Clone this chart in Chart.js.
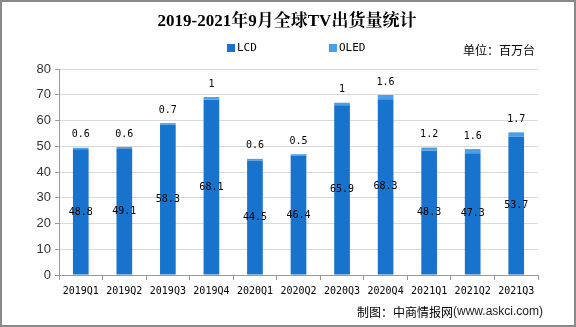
<!DOCTYPE html>
<html><head><meta charset="utf-8">
<script src="https://cdn.jsdelivr.net/npm/chart.js@4/dist/chart.umd.min.js"></script>
<style>html,body{margin:0;padding:0;background:#fff;}#wrap{width:576px;height:327px;position:relative;}</style>
</head><body><div id="wrap"><canvas id="c" width="576" height="327"></canvas></div>
<script>
const categories = ['2019Q1','2019Q2','2019Q3','2019Q4','2020Q1','2020Q2','2020Q3','2020Q4','2021Q1','2021Q2','2021Q3'];
const lcdValues = [48.8,49.1,58.3,68.1,44.5,46.4,65.9,68.3,48.3,47.3,53.7];
const oledValues = [0.6,0.6,0.7,1,0.6,0.5,1,1.6,1.2,1.6,1.7];
const yTicks = [0,10,20,30,40,50,60,70,80];
const titleText = '2019-2021年9月全球TV出货量统计';
const unitText = '单位：百万台';
const sourceText = '制图：中商情报网';
const sourceUrl = '(www.askci.com)';

const LCD_COLOR = '#1873cc';
const OLED_COLOR = '#4aa0e6';
const MONO = '"DejaVu Sans Mono", "Liberation Mono", monospace';

const decor = {
  id: 'decor',
  afterDatasetsDraw(chart) {
    const ctx = chart.ctx;
    const meta0 = chart.getDatasetMeta(0), meta1 = chart.getDatasetMeta(1);
    ctx.save();
    ctx.fillStyle = '#000';
    ctx.font = '10px ' + MONO;
    ctx.textAlign = 'center';
    ctx.textBaseline = 'middle';
    meta0.data.forEach((bar, i) => {
      const yc = (bar.y + bar.base) / 2;
      ctx.fillText(String(lcdValues[i]), bar.x, yc);
    });
    meta1.data.forEach((bar, i) => {
      ctx.fillText(String(oledValues[i]), bar.x, bar.y - 13);
    });
    ctx.restore();
  },
  afterDraw(chart) {
    const ctx = chart.ctx;
    ctx.save();
    ctx.fillStyle = '#000';
    ctx.textAlign = 'center';
    ctx.textBaseline = 'middle';
    ctx.font = 'bold 17px "Liberation Serif", "Noto Serif CJK SC", "Noto Sans CJK SC", serif';
    ctx.fillText(titleText, 287, 22);
    // legend
    ctx.font = '11px ' + MONO;
    ctx.textAlign = 'left';
    ctx.fillStyle = LCD_COLOR;
    ctx.fillRect(227, 44, 8, 8);
    ctx.fillStyle = '#000';
    ctx.fillText(chart.data.datasets[0].label, 237, 48.5);
    ctx.fillStyle = OLED_COLOR;
    ctx.fillRect(329, 44, 8, 8);
    ctx.fillStyle = '#000';
    ctx.fillText(chart.data.datasets[1].label, 339, 48.5);
    // unit
    ctx.font = '12px "Noto Sans CJK SC", sans-serif';
    ctx.textAlign = 'right';
    ctx.fillText(unitText, 535, 50);
    // source
    ctx.font = '12px "Liberation Sans", Arial, sans-serif';
    ctx.textAlign = 'right';
    ctx.fillStyle = '#222';
    ctx.fillText(sourceUrl, 543, 312);
    const w = ctx.measureText(sourceUrl).width;
    ctx.font = '12px "Noto Sans CJK SC", sans-serif';
    ctx.fillStyle = '#000';
    ctx.fillText(sourceText, 543 - w, 312);
    // border
    ctx.strokeStyle = '#8a8a8a';
    ctx.lineWidth = 2;
    ctx.strokeRect(1, 1, 574, 325);
    ctx.restore();
  }
};

new Chart(document.getElementById('c'), {
  type: 'bar',
  data: {
    labels: categories,
    datasets: [
      { label: 'LCD', data: lcdValues, backgroundColor: LCD_COLOR, barPercentage: 0.36, categoryPercentage: 1 },
      { label: 'OLED', data: oledValues, backgroundColor: OLED_COLOR, barPercentage: 0.36, categoryPercentage: 1 }
    ]
  },
  options: {
    responsive: false,
    animation: false,
    devicePixelRatio: 1,
    layout: { padding: { left: 0, right: 38, top: 69, bottom: 27 } },
    plugins: { legend: { display: false }, title: { display: false }, tooltip: { enabled: false } },
    scales: {
      x: {
        stacked: true,
        afterFit(s) { s.height = 25; },
        grid: { offset: true, drawOnChartArea: false, tickLength: 5, color: '#999' },
        border: { color: '#999' },
        ticks: { color: '#000', font: { family: MONO, size: 10 }, padding: 5, maxRotation: 0, autoSkip: false }
      },
      y: {
        stacked: true,
        min: 0, max: 80,
        afterFit(s) { s.width = 59; },
        afterBuildTicks(s) { s.ticks = yTicks.map(v => ({ value: v })); },
        grid: { color: '#d9d9d9', tickLength: 4, tickColor: '#999' },
        border: { color: '#999' },
        ticks: { color: '#333', font: { family: '"Liberation Sans", Arial, sans-serif', size: 13 }, padding: 4 }
      }
    }
  },
  plugins: [decor]
});
</script></body></html>
